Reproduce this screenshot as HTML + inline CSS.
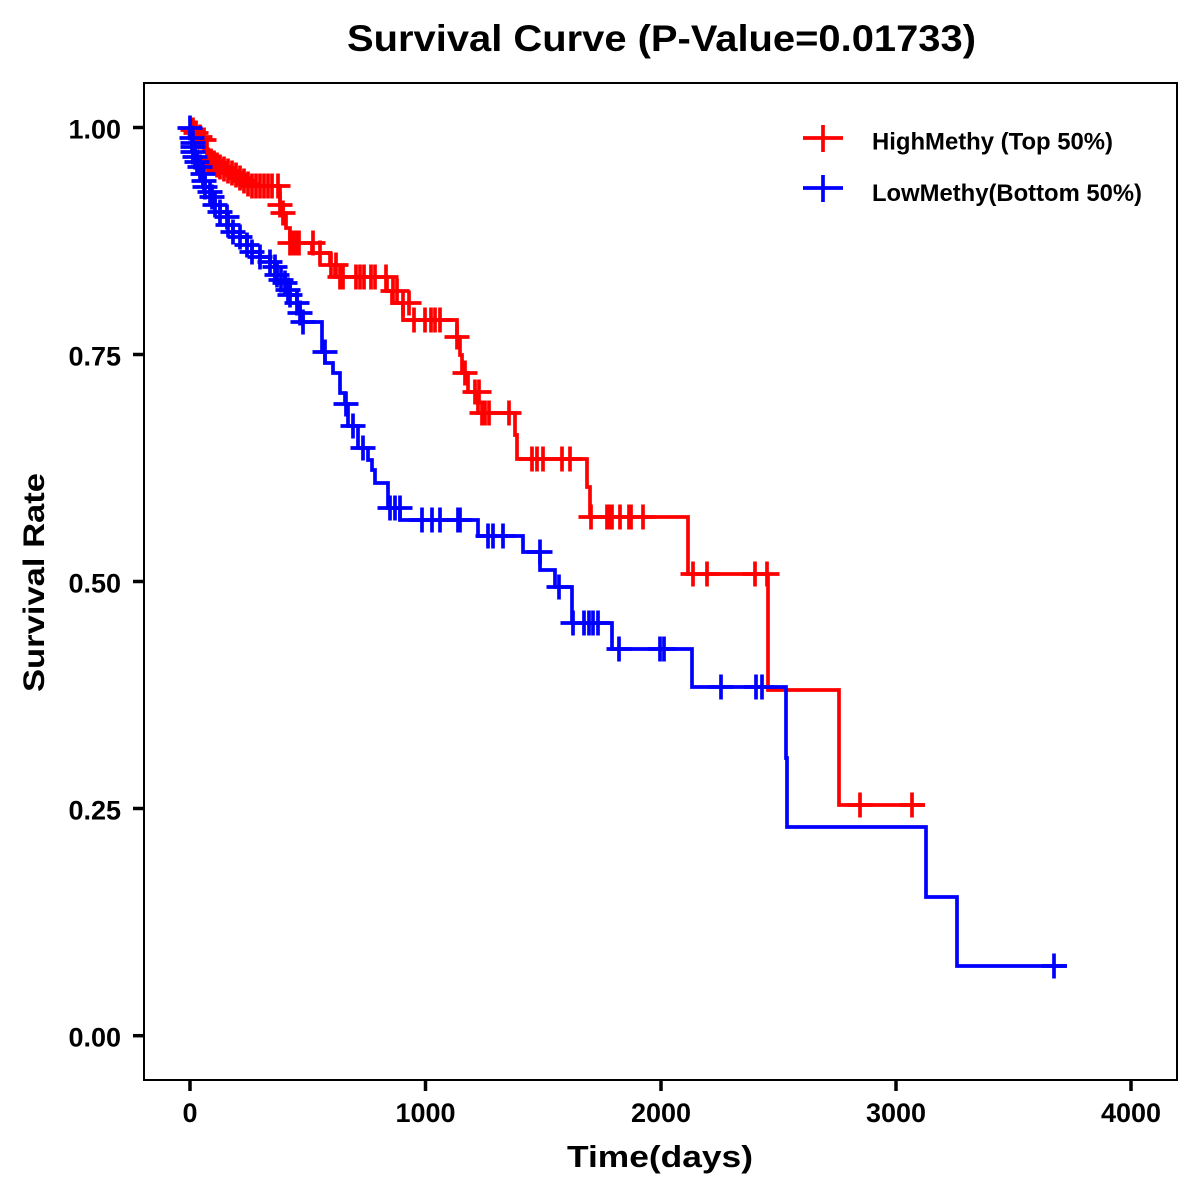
<!DOCTYPE html>
<html>
<head>
<meta charset="utf-8">
<style>
html,body{margin:0;padding:0;background:#fff;}
svg{display:block;}
text{font-family:"Liberation Sans",Arial,sans-serif;font-weight:bold;fill:#000;}
</style>
</head>
<body>
<svg width="1200" height="1200" viewBox="0 0 1200 1200" xmlns="http://www.w3.org/2000/svg">
<rect width="1200" height="1200" fill="#fff"/>
<text x="347" y="51" font-size="37" textLength="629" lengthAdjust="spacingAndGlyphs">Survival Curve (P-Value=0.01733)</text>

<rect x="144" y="83" width="1033" height="997" fill="none" stroke="#000" stroke-width="2"/>

<g stroke="#000" stroke-width="3.5">
<line x1="133" y1="127.5" x2="144" y2="127.5"/>
<line x1="133" y1="354.5" x2="144" y2="354.5"/>
<line x1="133" y1="581.5" x2="144" y2="581.5"/>
<line x1="133" y1="808.5" x2="144" y2="808.5"/>
<line x1="133" y1="1035.7" x2="144" y2="1035.7"/>
<line x1="190" y1="1080" x2="190" y2="1091"/>
<line x1="425.5" y1="1080" x2="425.5" y2="1091"/>
<line x1="661" y1="1080" x2="661" y2="1091"/>
<line x1="896" y1="1080" x2="896" y2="1091"/>
<line x1="1131" y1="1080" x2="1131" y2="1091"/>
</g>
<g font-size="27" text-anchor="end">
<text x="121" y="138.5">1.00</text>
<text x="121" y="365.5">0.75</text>
<text x="121" y="592.5">0.50</text>
<text x="121" y="819.5">0.25</text>
<text x="121" y="1046.5">0.00</text>
</g>
<g font-size="27" text-anchor="middle">
<text x="190" y="1122">0</text>
<text x="425.5" y="1122">1000</text>
<text x="661" y="1122">2000</text>
<text x="896" y="1122">3000</text>
<text x="1131" y="1122">4000</text>
</g>

<text x="567" y="1167" font-size="31" textLength="186" lengthAdjust="spacingAndGlyphs">Time(days)</text>
<text transform="translate(44,692) rotate(-90)" font-size="30" textLength="219" lengthAdjust="spacingAndGlyphs">Survival Rate</text>

<g stroke="#FF0000" stroke-width="3.7" fill="none">
<path d="M190,128 H195 V133 H200 V138 H205 V143 H207 V157 H215 V163 H222 V168 H235 V175 H242 V180 H250 V186 H280 V205 H283 V213 H286 V228 H290 V243 H312 V253 H330 V265 H335 V277 H387 V291 H392 V303 H403 V320 H457 V337 H460 V355 H462 V373 H468 V392 H478 V413 H515 V435 H517 V459 H587 V487 H590 V517 H688 V574 H768 V690 H839 V805 H925"/>
<path d="M180.5,130h25M193,117.5v25 M183.5,133h25M196,120.5v25 M187.5,137h25M200,124.5v25 M191.5,140h25M204,127.5v25 M195.5,160h25M208,147.5v25 M198.5,161h25M211,148.5v25 M201.5,163h25M214,150.5v25 M204.5,165h25M217,152.5v25 M207.5,167h25M220,154.5v25 M211.5,169h25M224,156.5v25 M215.5,171h25M228,158.5v25 M219.5,173h25M232,160.5v25 M223.5,175h25M236,162.5v25 M227.5,178h25M240,165.5v25 M231.5,181h25M244,168.5v25 M235.5,184h25M248,171.5v25 M239.5,186h25M252,173.5v25 M243.5,186h25M256,173.5v25 M247.5,186h25M260,173.5v25 M251.5,186h25M264,173.5v25 M255.5,186h25M268,173.5v25 M259.5,186h25M272,173.5v25 M265.5,186h25M278,173.5v25 M267.5,205h25M280,192.5v25 M270.5,213h25M283,200.5v25 M277.5,243h25M290,230.5v25 M280.5,243h25M293,230.5v25 M283.5,243h25M296,230.5v25 M286.5,243h25M299,230.5v25 M300.5,243h25M313,230.5v25 M307.5,253h25M320,240.5v25 M318.5,265h25M331,252.5v25 M323.5,265h25M336,252.5v25 M327.5,277h25M340,264.5v25 M330.5,277h25M343,264.5v25 M343.5,277h25M356,264.5v25 M347.5,277h25M360,264.5v25 M351.5,277h25M364,264.5v25 M358.5,277h25M371,264.5v25 M362.5,277h25M375,264.5v25 M373.5,277h25M386,264.5v25 M380.5,291h25M393,278.5v25 M384.5,291h25M397,278.5v25 M390.5,303h25M403,290.5v25 M396.5,303h25M409,290.5v25 M401.5,320h25M414,307.5v25 M412.5,320h25M425,307.5v25 M418.5,320h25M431,307.5v25 M422.5,320h25M435,307.5v25 M427.5,320h25M440,307.5v25 M444.5,337h25M457,324.5v25 M452.5,373h25M465,360.5v25 M462.5,392h25M475,379.5v25 M466.5,392h25M479,379.5v25 M469.5,413h25M482,400.5v25 M472.5,413h25M485,400.5v25 M476.5,413h25M489,400.5v25 M496.5,413h25M509,400.5v25 M519.5,459h25M532,446.5v25 M524.5,459h25M537,446.5v25 M530.5,459h25M543,446.5v25 M549.5,459h25M562,446.5v25 M557.5,459h25M570,446.5v25 M578.5,517h25M591,504.5v25 M594.5,517h25M607,504.5v25 M597.5,517h25M610,504.5v25 M599.5,517h25M612,504.5v25 M607.5,517h25M620,504.5v25 M616.5,517h25M629,504.5v25 M618.5,517h25M631,504.5v25 M630.5,517h25M643,504.5v25 M680.5,574h25M693,561.5v25 M694.5,574h25M707,561.5v25 M742.5,574h25M755,561.5v25 M754.5,574h25M767,561.5v25 M847.5,805h25M860,792.5v25 M899.5,805h25M912,792.5v25"/>
</g>

<g stroke="#0000FF" stroke-width="3.7" fill="none">
<path d="M190,128 V133 H192 V138 H193 V147 H195 V155 H197 V162 H200 V167 H203 V174 H205 V187 H210 V192 H212 V197 H215 V205 H220 V212 H227 V217 H228 V225 H233 V232 H240 V237 H247 V245 H252 V252 H260 V257 H270 V262 H275 V267 H277 V275 H285 V283 H290 V295 H297 V303 H300 V313 H303 V322 H322 V352 H325 V363 H333 V373 H340 V393 H345 V404 H348 V426 H358 V448 H368 V460 H372 V470 H375 V483 H388 V508 H400 V520 H478 V536 H523 V552 H540 V570 H555 V587 H572 V623 H612 V649 H692 V687 H786 V758 H787 V827 H926 V897 H957 V966 H1067"/>
<path d="M177.5,128h25M190,115.5v25 M179.5,138h25M192,125.5v25 M180.5,143h25M193,130.5v25 M180.5,147h25M193,134.5v25 M180.5,152h25M193,139.5v25 M182.5,157h25M195,144.5v25 M184.5,162h25M197,149.5v25 M187.5,167h25M200,154.5v25 M190.5,174h25M203,161.5v25 M191.5,181h25M204,168.5v25 M192.5,187h25M205,174.5v25 M197.5,192h25M210,179.5v25 M199.5,197h25M212,184.5v25 M202.5,205h25M215,192.5v25 M207.5,212h25M220,199.5v25 M214.5,217h25M227,204.5v25 M215.5,225h25M228,212.5v25 M220.5,232h25M233,219.5v25 M227.5,237h25M240,224.5v25 M234.5,245h25M247,232.5v25 M239.5,252h25M252,239.5v25 M247.5,257h25M260,244.5v25 M257.5,262h25M270,249.5v25 M262.5,267h25M275,254.5v25 M264.5,275h25M277,262.5v25 M268.5,280h25M281,267.5v25 M272.5,283h25M285,270.5v25 M275.5,290h25M288,277.5v25 M277.5,295h25M290,282.5v25 M284.5,303h25M297,290.5v25 M287.5,313h25M300,300.5v25 M290.5,322h25M303,309.5v25 M312.5,352h25M325,339.5v25 M333.5,404h25M346,391.5v25 M340.5,426h25M353,413.5v25 M350.5,448h25M363,435.5v25 M377.5,508h25M390,495.5v25 M382.5,508h25M395,495.5v25 M387.5,508h25M400,495.5v25 M409.5,520h25M422,507.5v25 M419.5,520h25M432,507.5v25 M427.5,520h25M440,507.5v25 M445.5,520h25M458,507.5v25 M447.5,520h25M460,507.5v25 M475.5,536h25M488,523.5v25 M480.5,536h25M493,523.5v25 M490.5,536h25M503,523.5v25 M527.5,552h25M540,539.5v25 M546.5,587h25M559,574.5v25 M560.5,623h25M573,610.5v25 M571.5,623h25M584,610.5v25 M576.5,623h25M589,610.5v25 M580.5,623h25M593,610.5v25 M585.5,623h25M598,610.5v25 M606.5,649h25M619,636.5v25 M647.5,649h25M660,636.5v25 M651.5,649h25M664,636.5v25 M708.5,687h25M721,674.5v25 M743.5,687h25M756,674.5v25 M749.5,687h25M762,674.5v25 M1041.5,966h25M1054,953.5v25"/>
</g>

<g stroke-width="3.7">
<line x1="803" y1="138" x2="843" y2="138" stroke="#FF0000"/>
<line x1="823" y1="125" x2="823" y2="152" stroke="#FF0000"/>
<line x1="803" y1="188" x2="843" y2="188" stroke="#0000FF"/>
<line x1="823" y1="175" x2="823" y2="202" stroke="#0000FF"/>
</g>
<text x="872" y="149.5" font-size="24" textLength="241" lengthAdjust="spacingAndGlyphs">HighMethy (Top 50%)</text>
<text x="872" y="201" font-size="24" textLength="270" lengthAdjust="spacingAndGlyphs">LowMethy(Bottom 50%)</text>
</svg>
</body>
</html>
